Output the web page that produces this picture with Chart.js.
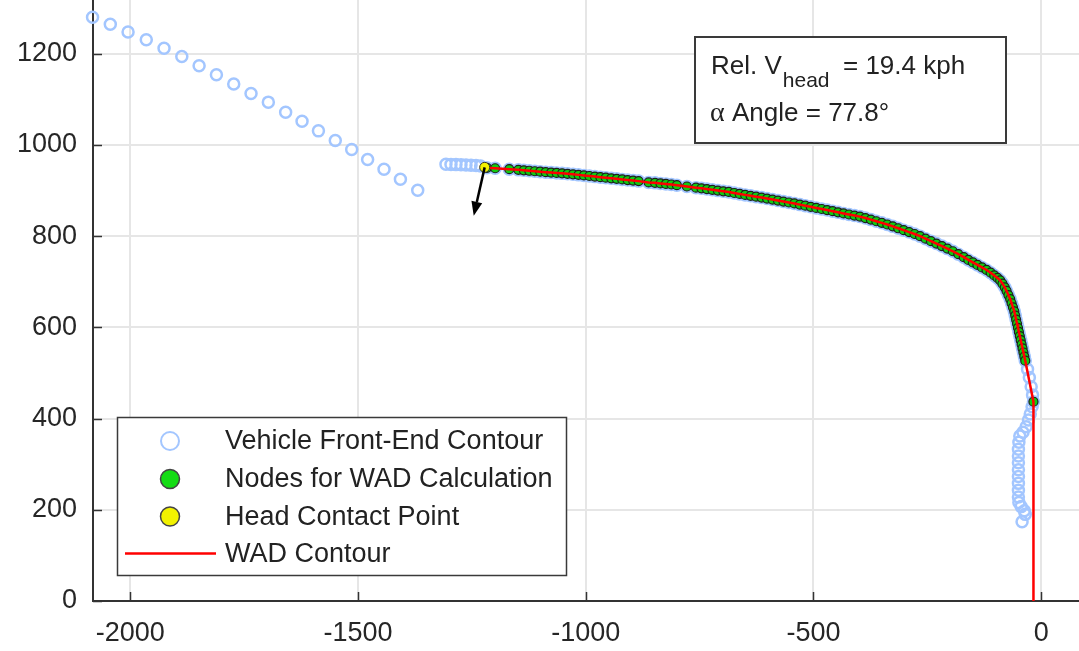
<!DOCTYPE html>
<html>
<head>
<meta charset="utf-8">
<script src="https://cdn.jsdelivr.net/npm/chart.js"></script>
<style>
  html, body { margin: 0; padding: 0; background: #fff; }
  #wrap { width: 1079px; height: 651px; }
</style>
</head>
<body>
<div id="wrap"><canvas id="wadChart" width="1079" height="651"></canvas></div>
<script>
// axis ticks
var xTicks = [-2000, -1500, -1000, -500, 0];
var yTicks = [0, 200, 400, 600, 800, 1000, 1200];

// vehicle front-end contour (open blue circles)
var contourUpper = [[-2083,1280],[-2044,1265],[-2005,1248],[-1965,1231],[-1926,1212],[-1887,1194],
  [-1849,1174],[-1811,1154],[-1773,1134],[-1735,1113],[-1697,1094],[-1659,1072],[-1623,1052],
  [-1587,1031],[-1550,1010],[-1514,990],[-1479,968],[-1443,947],[-1407,925],[-1369,901]];
var contourFlat = [[-1307,958],[-1296,957.5],[-1285,957],[-1274,956.5],[-1263,956],[-1252,955.5],
  [-1241,955],[-1231,954]];
var contourLower = [[-30,508],[-26,490],[-22,470],[-19,452],[-20,426],[-24,410],[-28,397],[-33,382],
  [-40,370],[-47,362],[-49,348],[-50,333],[-50,318],[-50,303],[-50,288],[-50,273],[-50,258],
  [-50,243],[-50,228],[-49,216],[-44,207],[-37,198],[-35,190],[-42,174]];

// head contact point
var headPoint = [[-1222, 951]];

// nodes for WAD calculation
var wadNodes = [[-1217,950],[-1199,949],[-1168,947],[-1148,945.5],[-1136,944.5],[-1124,943.5],
  [-1112,942.5],[-1100,941.5],[-1088,940.5],[-1076,939.5],[-1064,938.7],[-1052,937.8],[-1040,936.9],
  [-1028,935.8],[-1016,934.5],[-1004,933.2],[-992,932],[-980,930.7],[-968,929.5],[-956,928.3],
  [-944,927],[-932,925.8],[-920,924.5],[-908,923.2],[-896,922],[-884,920.8],[-862,918],[-848,917],
  [-836,915.8],[-824,914.6],[-812,913.4],[-800,911.8],[-778,909],[-758,906.5],[-746,905],[-734,903.3],
  [-722,901.7],[-710,900],[-698,898.4],[-686,897],[-674,894.8],[-662,892.7],[-650,890.6],[-638,888.6],
  [-626,886.6],[-614,884.7],[-602,882.5],[-590,880.4],[-578,878.2],[-566,876],[-554,873.9],
  [-542,871.8],[-530,869.3],[-518,867],[-506,864.5],[-494,862],[-482,859.7],[-470,857.3],[-458,854.9],
  [-446,852.4],[-434,850],[-422,847.6],[-410,845.2],[-398,843],[-386,839.8],[-374,836.4],[-362,832.8],
  [-350,829.3],[-338,825.7],[-326,821.6],[-314,817.4],[-302,813.2],[-290,809],[-278,804.8],[-266,800],
  [-254,794.6],[-242,789.2],[-230,783.8],[-218,778.4],[-206,772.8],[-194,767],[-182,760.5],[-170,754],
  [-160,748],[-150,742.5],[-140,737],[-130,731.5],[-120,726],[-111,720],[-103,714],[-96,708.5],
  [-90,703],[-85,696],[-80,688],[-76,680],[-72,671],[-68,662],[-65,653],[-62,644],[-59,635],
  [-57,626],[-55,617],[-53,608],[-51,599],[-49,590],[-47,581],[-45,572],[-43,563],[-41,554],
  [-39,545],[-37,536],[-35,527],[-17,437]];

// end of the WAD contour on the ground
var wadGround = [[-17, 0]];

// head velocity arrow (start, end)
var headArrow = [[-1222, 951], [-1246, 845]];

var legendLabels = ['Vehicle Front-End Contour', 'Nodes for WAD Calculation', 'Head Contact Point', 'WAD Contour'];
var infoLines = ['Rel. V', 'head', '= 19.4 kph', '\u03b1', 'Angle = 77.8\u00b0'];

function toXY(list) {
  return list.map(function (p) { return { x: p[0], y: p[1] }; });
}

var SANS = '"Liberation Sans", Arial, Helvetica, sans-serif';
var blue = '#a3c6ff';
var green = '#10cc10';
var yellow = '#f2f200';
var red = '#ff0000';

function noPad(axis) {
  axis.paddingTop = 0;
  axis.paddingBottom = 0;
  axis.paddingLeft = 0;
  axis.paddingRight = 0;
}

// inward tick marks like MATLAB
var innerTicks = {
  id: 'innerTicks',
  beforeDatasetsDraw: function (chart) {
    var c = chart.ctx, a = chart.chartArea;
    var xs = chart.scales.x, ys = chart.scales.y;
    c.save();
    c.strokeStyle = '#333';
    c.lineWidth = 1.5;
    c.beginPath();
    xTicks.forEach(function (v) {
      var px = Math.round(xs.getPixelForValue(v)) + 0.5;
      c.moveTo(px, a.bottom); c.lineTo(px, a.bottom - 9);
    });
    yTicks.forEach(function (v) {
      var py = Math.round(ys.getPixelForValue(v)) + 0.5;
      c.moveTo(a.left, py); c.lineTo(a.left + 9, py);
    });
    c.stroke();
    c.restore();
  }
};

var overlay = {
  id: 'overlay',
  afterDraw: function (chart) {
    var c = chart.ctx;
    var xs = chart.scales.x, ys = chart.scales.y;
    c.save();

    // arrow
    var x0 = xs.getPixelForValue(headArrow[0][0]), y0 = ys.getPixelForValue(headArrow[0][1]);
    var x1 = xs.getPixelForValue(headArrow[1][0]), y1 = ys.getPixelForValue(headArrow[1][1]);
    var ang = Math.atan2(y1 - y0, x1 - x0);
    var hl = 14, hw = 5.5;
    c.strokeStyle = '#000';
    c.fillStyle = '#000';
    c.lineWidth = 2.5;
    c.beginPath();
    c.moveTo(x0, y0);
    c.lineTo(x1 - hl * Math.cos(ang), y1 - hl * Math.sin(ang));
    c.stroke();
    c.beginPath();
    c.moveTo(x1, y1);
    c.lineTo(x1 - hl * Math.cos(ang) + hw * Math.sin(ang), y1 - hl * Math.sin(ang) - hw * Math.cos(ang));
    c.lineTo(x1 - hl * Math.cos(ang) - hw * Math.sin(ang), y1 - hl * Math.sin(ang) + hw * Math.cos(ang));
    c.closePath();
    c.fill();

    // legend box
    c.fillStyle = '#fff';
    c.fillRect(117, 417, 449, 158);
    c.strokeStyle = '#3a3a3a';
    c.lineWidth = 1.5;
    c.strokeRect(117.5, 417.5, 449, 158);
    var rows = [441, 479, 516.5, 553.5];
    // blue open circle
    c.beginPath(); c.arc(170, rows[0], 9, 0, Math.PI * 2);
    c.fillStyle = '#fff'; c.fill();
    c.strokeStyle = blue; c.lineWidth = 2; c.stroke();
    // green
    c.beginPath(); c.arc(170, rows[1], 9.5, 0, Math.PI * 2);
    c.fillStyle = '#14dc14'; c.fill();
    c.strokeStyle = '#444'; c.lineWidth = 1.5; c.stroke();
    // yellow
    c.beginPath(); c.arc(170, rows[2], 9.5, 0, Math.PI * 2);
    c.fillStyle = yellow; c.fill();
    c.strokeStyle = '#444'; c.lineWidth = 1.5; c.stroke();
    // red line
    c.beginPath(); c.moveTo(125, rows[3]); c.lineTo(216, rows[3]);
    c.strokeStyle = red; c.lineWidth = 2.5; c.stroke();
    c.fillStyle = '#222';
    c.font = '27px ' + SANS;
    c.textBaseline = 'middle';
    legendLabels.forEach(function (t, i) { c.fillText(t, 225, rows[i] + 1); });

    // info box
    c.fillStyle = '#fff';
    c.fillRect(695, 37, 311, 106);
    c.strokeStyle = '#3a3a3a';
    c.lineWidth = 2;
    c.strokeRect(695, 37, 311, 106);
    c.fillStyle = '#222';
    c.textBaseline = 'alphabetic';
    c.font = '26px ' + SANS;
    c.fillText(infoLines[0], 711, 74);
    var w = c.measureText(infoLines[0]).width;
    c.font = '21px ' + SANS;
    c.fillText(infoLines[1], 711 + w + 1, 87);
    c.font = '26px ' + SANS;
    c.fillText(infoLines[2], 843, 74);
    c.font = '28px "Liberation Serif", "Times New Roman", serif';
    c.fillText(infoLines[3], 710, 121);
    c.font = '26px ' + SANS;
    c.fillText(infoLines[4], 732, 121);
    c.restore();
  }
};

var vehicleContour = contourUpper.concat(contourFlat, wadNodes, contourLower);
var wadContour = headPoint.concat(wadNodes, wadGround);

var ctx = document.getElementById('wadChart').getContext('2d');
var wadChart = new Chart(ctx, {
  type: 'scatter',
  data: {
    datasets: [
      {
        label: legendLabels[2],
        data: toXY(headPoint),
        pointRadius: 5,
        backgroundColor: yellow,
        borderColor: '#333',
        borderWidth: 1,
        order: 0
      },
      {
        label: legendLabels[3],
        data: toXY(wadContour),
        showLine: true,
        pointRadius: 0,
        borderColor: red,
        borderWidth: 2.5,
        tension: 0,
        fill: false,
        order: 1
      },
      {
        label: legendLabels[1],
        data: toXY(wadNodes),
        pointRadius: 4.5,
        backgroundColor: green,
        borderColor: '#1e1e1e',
        borderWidth: 1.2,
        order: 2
      },
      {
        label: legendLabels[0],
        data: toXY(vehicleContour),
        pointRadius: 5.5,
        backgroundColor: 'rgba(255,255,255,0)',
        borderColor: blue,
        borderWidth: 2.5,
        clip: false,
        order: 3
      }
    ]
  },
  options: {
    responsive: false,
    animation: false,
    devicePixelRatio: 1,
    layout: { padding: 0, autoPadding: false },
    plugins: {
      legend: { display: false },
      tooltip: { enabled: false }
    },
    scales: {
      x: {
        type: 'linear',
        min: -2082,
        max: 83,
        afterBuildTicks: function (axis) { axis.ticks = xTicks.map(function (v) { return { value: v }; }); },
        afterFit: function (axis) { axis.height = 50; noPad(axis); },
        grid: { color: '#e6e6e6', lineWidth: 2, drawTicks: false },
        border: { display: true, color: '#333', width: 2 },
        ticks: {
          color: '#262626',
          padding: 16,
          maxRotation: 0,
          font: { family: SANS, size: 27 },
          callback: function (v) { return String(v); }
        }
      },
      y: {
        type: 'linear',
        min: 0,
        max: 1318,
        afterBuildTicks: function (axis) { axis.ticks = yTicks.map(function (v) { return { value: v }; }); },
        afterFit: function (axis) { axis.width = 93; noPad(axis); },
        grid: { color: '#e6e6e6', lineWidth: 2, drawTicks: false },
        border: { display: true, color: '#333', width: 2 },
        ticks: {
          color: '#262626',
          padding: 16,
          font: { family: SANS, size: 27 },
          callback: function (v) { return String(v); }
        }
      }
    }
  },
  plugins: [innerTicks, overlay]
});
</script>
</body>
</html>
